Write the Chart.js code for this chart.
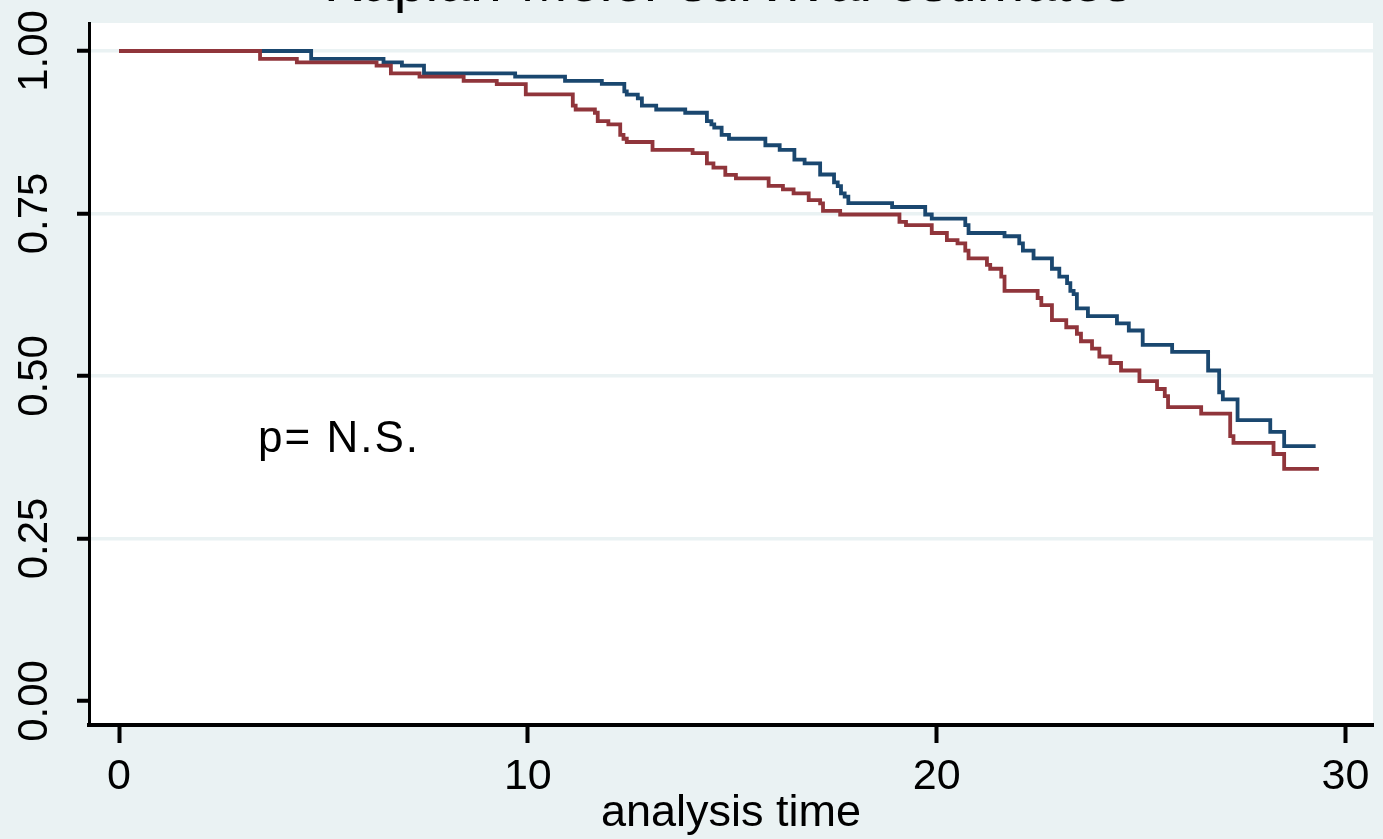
<!DOCTYPE html>
<html>
<head>
<meta charset="utf-8">
<script src="https://cdn.jsdelivr.net/npm/chart.js@4/dist/chart.umd.min.js"></script>
<style>
  html, body { margin: 0; padding: 0; background: #EAF2F3; }
  canvas { display: block; }
</style>
</head>
<body>
<canvas id="km" width="1383" height="839"></canvas>
<script>
// ---- data ----
const blueTime = [0, 4.70, 6.47, 6.92, 7.46, 9.69, 10.91, 11.81, 12.36, 12.42, 12.69, 12.79, 13.14, 13.85, 14.38, 14.49, 14.56, 14.74, 14.92, 15.81, 16.16, 16.52, 16.77, 17.15, 17.49, 17.58, 17.66, 17.75, 17.84, 18.91, 19.72, 19.88, 20.70, 20.78, 21.66, 22.02, 22.11, 22.37, 22.82, 23.00, 23.19, 23.27, 23.35, 23.43, 23.70, 24.41, 24.70, 25.04, 25.76, 26.64, 26.91, 27.00, 27.36, 28.16, 28.50, 29.27];
const blueSurv = [1.0, 0.988, 0.9826, 0.9775, 0.9657, 0.9605, 0.954, 0.9493, 0.938, 0.933, 0.927, 0.916, 0.910, 0.905, 0.892, 0.887, 0.882, 0.871, 0.865, 0.855, 0.848, 0.833, 0.827, 0.810, 0.798, 0.792, 0.781, 0.776, 0.766, 0.760, 0.7485, 0.742, 0.732, 0.720, 0.715, 0.704, 0.693, 0.681, 0.665, 0.653, 0.643, 0.631, 0.626, 0.604, 0.592, 0.581, 0.570, 0.548, 0.537, 0.5085, 0.475, 0.464, 0.432, 0.414, 0.392, 0.392];

const redTime = [0, 3.45, 4.35, 6.30, 6.65, 7.35, 8.43, 9.24, 9.95, 11.10, 11.17, 11.64, 11.71, 11.97, 12.26, 12.34, 12.42, 13.05, 14.03, 14.38, 14.54, 14.83, 15.09, 15.89, 16.24, 16.50, 16.87, 17.15, 17.22, 17.64, 19.09, 19.25, 19.88, 20.25, 20.51, 20.70, 20.78, 21.23, 21.31, 21.58, 21.66, 22.47, 22.56, 22.82, 23.17, 23.43, 23.53, 23.80, 23.98, 24.25, 24.51, 24.96, 25.39, 25.58, 25.66, 26.47, 27.18, 27.26, 28.24, 28.50, 29.35];
const redSurv = [1.0, 0.988, 0.9826, 0.9775, 0.9657, 0.9605, 0.954, 0.949, 0.9334, 0.916, 0.910, 0.905, 0.892, 0.887, 0.871, 0.865, 0.860, 0.848, 0.843, 0.827, 0.8206, 0.8095, 0.804, 0.7926, 0.787, 0.781, 0.7706, 0.7655, 0.754, 0.7485, 0.737, 0.732, 0.720, 0.709, 0.704, 0.693, 0.681, 0.671, 0.665, 0.653, 0.631, 0.620, 0.609, 0.586, 0.575, 0.565, 0.5535, 0.542, 0.530, 0.520, 0.5085, 0.492, 0.480, 0.469, 0.452, 0.442, 0.4075, 0.397, 0.380, 0.357, 0.357];

const seriesNames = ['group 1', 'group 2'];
const xTickValues = [0, 10, 20, 30];
const yTickValues = [0, 0.25, 0.5, 0.75, 1];
const yTickLabels = ['0.00', '0.25', '0.50', '0.75', '1.00'];
const chartTitle = 'Kaplan-Meier survival estimates';
const xAxisTitle = 'analysis time';
const annotationText = 'p= N.S.';

// ---- styling ----
const FONT = "'Liberation Sans', Arial, Helvetica, sans-serif";
const BG = '#EAF2F3';
const NAVY = '#1A476F';
const MAROON = '#90353B';

const toPoints = (t, s) => t.map((x, i) => ({ x: x, y: s[i] }));

const bgPlugin = {
  id: 'bg',
  beforeDraw(chart) {
    const { ctx, chartArea: a } = chart;
    ctx.save();
    ctx.fillStyle = BG;
    ctx.fillRect(0, 0, chart.width, chart.height);
    ctx.fillStyle = '#FFFFFF';
    ctx.fillRect(a.left - 1, a.top, a.right - a.left + 1, a.bottom - a.top);
    ctx.restore();
  }
};

const textPlugin = {
  id: 'texts',
  afterDraw(chart) {
    const { ctx } = chart;
    const ys = chart.scales.y;
    const xs = chart.scales.x;
    ctx.save();
    ctx.fillStyle = '#000';
    // rotated y tick labels
    ctx.font = '42px ' + FONT;
    ctx.textAlign = 'center';
    ctx.textBaseline = 'middle';
    yTickValues.forEach((v, i) => {
      ctx.save();
      ctx.translate(35, ys.getPixelForValue(v));
      ctx.rotate(-Math.PI / 2);
      ctx.fillText(yTickLabels[i], 0, 0);
      ctx.restore();
    });
    // chart title (mostly above the visible canvas, as in the reference)
    ctx.font = '57px ' + FONT;
    ctx.textAlign = 'center';
    ctx.textBaseline = 'alphabetic';
    ctx.fillText(chartTitle, 728, 1);
    // annotation
    ctx.font = '44px ' + FONT;
    ctx.textAlign = 'left';
    if ('letterSpacing' in ctx) ctx.letterSpacing = '2px';
    ctx.fillText(annotationText, xs.getPixelForValue(3.4), ys.getPixelForValue(0.383));
    ctx.restore();
  }
};

new Chart(document.getElementById('km'), {
  type: 'line',
  data: {
    datasets: [
      {
        label: seriesNames[1],
        data: toPoints(redTime, redSurv),
        borderColor: MAROON,
        borderWidth: 3.8,
        stepped: 'before',
        pointRadius: 0,
        fill: false,
        borderJoinStyle: 'miter',
        borderCapStyle: 'butt'
      },
      {
        label: seriesNames[0],
        data: toPoints(blueTime, blueSurv),
        borderColor: NAVY,
        borderWidth: 3.8,
        stepped: 'before',
        pointRadius: 0,
        fill: false,
        borderJoinStyle: 'miter',
        borderCapStyle: 'butt'
      }
    ]
  },
  options: {
    responsive: false,
    animation: false,
    devicePixelRatio: 1,
    layout: { padding: { top: 23, right: 10, left: 0, bottom: 0 } },
    plugins: { legend: { display: false }, tooltip: { enabled: false }, title: { display: false } },
    scales: {
      x: {
        type: 'linear',
        position: 'bottom',
        min: -0.734,
        max: 30.673,
        afterBuildTicks: s => { s.ticks = xTickValues.map(v => ({ value: v })); },
        afterFit: s => { s.height = 114; },
        grid: { drawOnChartArea: false, drawTicks: true, tickLength: 18, tickWidth: 4, tickColor: '#000' },
        border: { display: true, color: '#000', width: 4 },
        ticks: {
          font: { family: FONT, size: 43, lineHeight: 1.2 },
          color: '#000', padding: 8, maxRotation: 0, minRotation: 0, autoSkip: false,
          callback: v => String(v)
        },
        title: {
          display: true, text: xAxisTitle, color: '#000',
          font: { family: FONT, size: 45, lineHeight: 1 },
          padding: { top: 0, bottom: 3 }
        }
      },
      y: {
        type: 'linear',
        min: -0.03692,
        max: 1.04308,
        afterBuildTicks: s => { s.ticks = yTickValues.map(v => ({ value: v })); },
        afterFit: s => { s.width = 89; },
        grid: {
          color: c => (c.tick && c.tick.value === 0) ? 'rgba(0,0,0,0)' : BG,
          lineWidth: 3.5, drawTicks: true, tickLength: 12, tickWidth: 4, tickColor: '#000'
        },
        border: { display: true, color: '#000', width: 3 },
        ticks: { display: false }
      }
    }
  },
  plugins: [bgPlugin, textPlugin]
});
</script>
</body>
</html>
